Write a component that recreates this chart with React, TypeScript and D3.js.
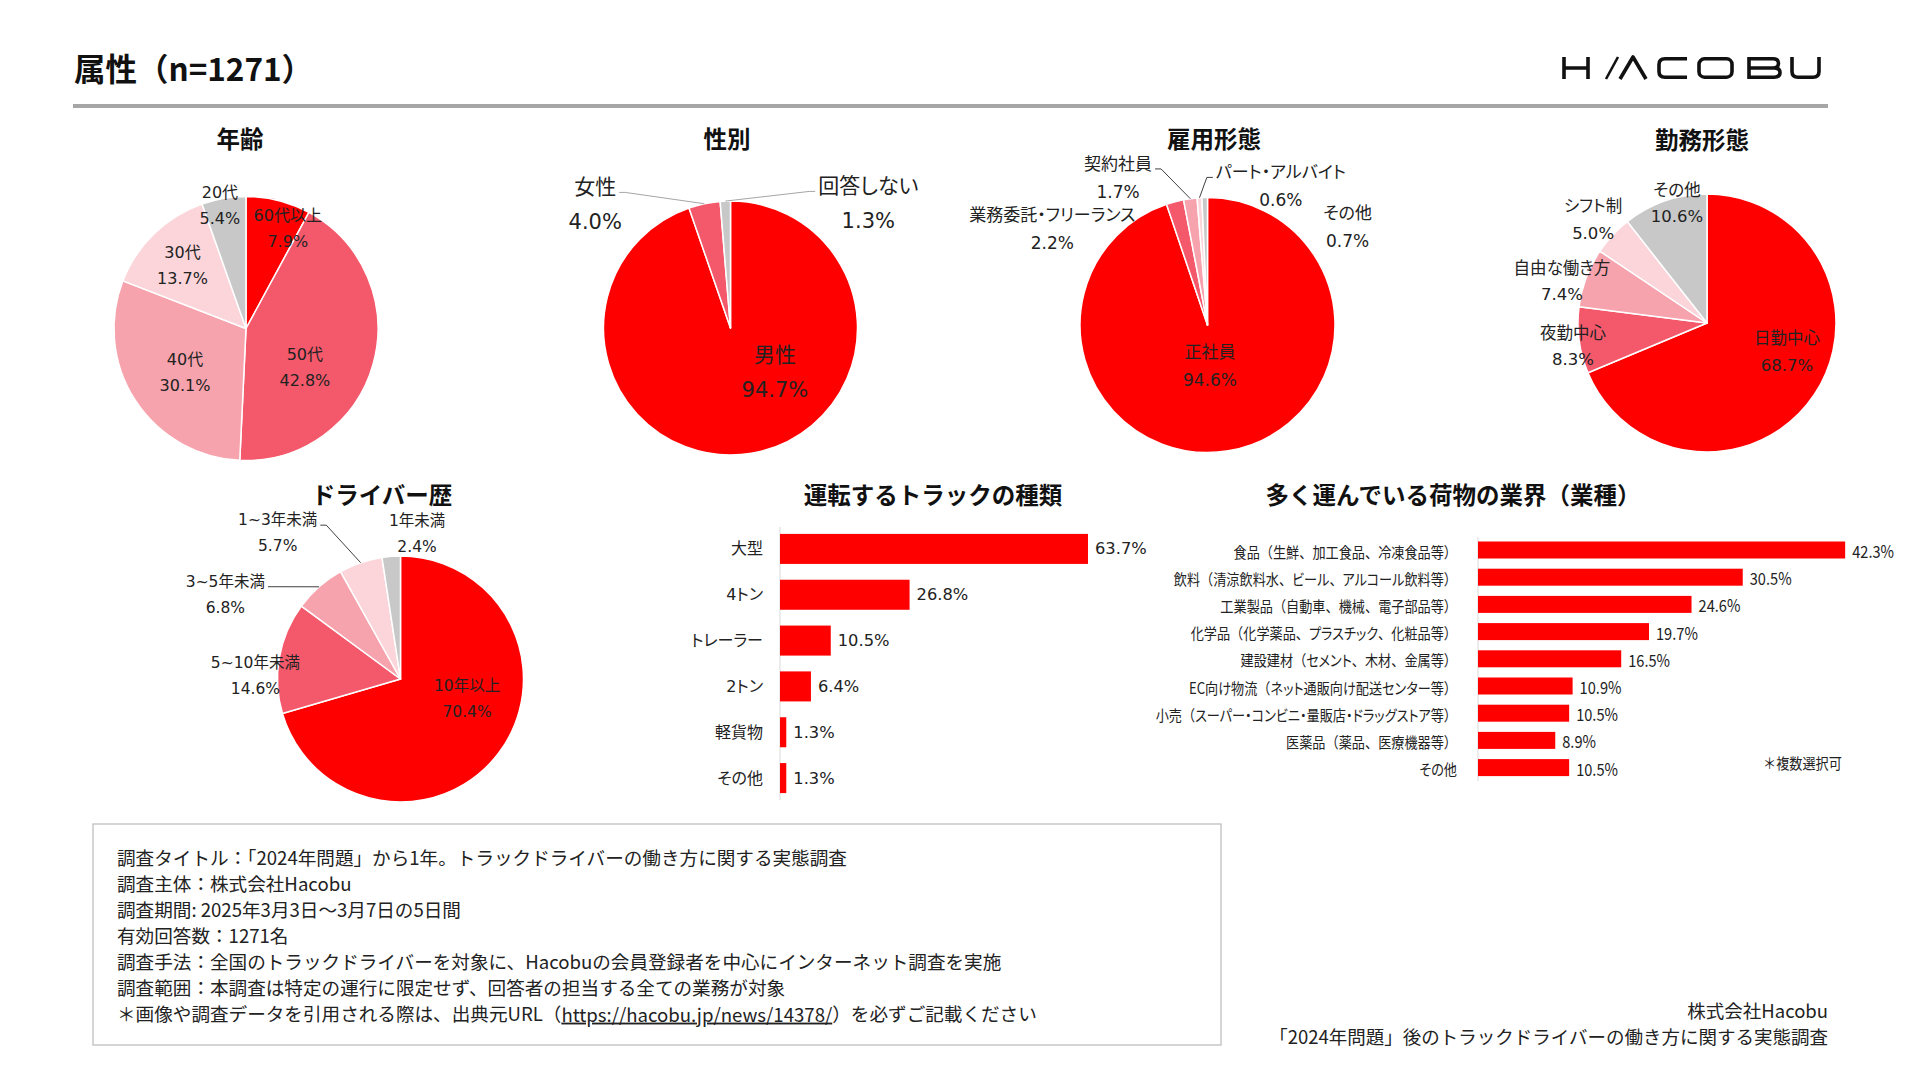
import React, { useLayoutEffect, useRef, useState } from 'react';
import * as d3 from 'd3';

// ---------- DATA ----------
const ageCategories = ['60代以上', '50代', '40代', '30代', '20代'];
const ageValues = [7.9, 42.8, 30.1, 13.7, 5.4];

const genderCategories = ['男性', '女性', '回答しない'];
const genderValues = [94.7, 4.0, 1.3];

const employmentCategories = ['正社員', '業務委託・フリーランス', '契約社員', 'パート・アルバイト', 'その他'];
const employmentValues = [94.6, 2.2, 1.7, 0.6, 0.7];

const workCategories = ['日勤中心', '夜勤中心', '自由な働き方', 'シフト制', 'その他'];
const workValues = [68.7, 8.3, 7.4, 5.0, 10.6];

const driverCategories = ['10年以上', '5~10年未満', '3~5年未満', '1~3年未満', '1年未満'];
const driverValues = [70.4, 14.6, 6.8, 5.7, 2.4];

const truckCategories = ['大型', '4トン', 'トレーラー', '2トン', '軽貨物', 'その他'];
const truckValues = [63.7, 26.8, 10.5, 6.4, 1.3, 1.3];

const industryCategories = [
  '食品（生鮮、加工食品、冷凍食品等）',
  '飲料（清涼飲料水、ビール、アルコール飲料等）',
  '工業製品（自動車、機械、電子部品等）',
  '化学品（化学薬品、プラスチック、化粧品等）',
  '建設建材（セメント、木材、金属等）',
  'EC向け物流（ネット通販向け配送センター等）',
  '小売（スーパー・コンビニ・量販店・ドラッグストア等）',
  '医薬品（薬品、医療機器等）',
  'その他',
];
const industryValues = [42.3, 30.5, 24.6, 19.7, 16.5, 10.9, 10.5, 8.9, 10.5];

const surveyLines = [
  '調査タイトル：「2024年問題」から1年。トラックドライバーの働き方に関する実態調査',
  '調査主体：株式会社Hacobu',
  '調査期間: 2025年3月3日～3月7日の5日間',
  '有効回答数：1271名',
  '調査手法：全国のトラックドライバーを対象に、Hacobuの会員登録者を中心にインターネット調査を実施',
  '調査範囲：本調査は特定の運行に限定せず、回答者の担当する全ての業務が対象',
];
const citePre = '＊画像や調査データを引用される際は、出典元URL（';
const citeUrl = 'https://hacobu.jp/news/14378/';
const citePost = '）を必ずご記載ください';

// ---------- STYLE ----------
const RED = '#FF0000';
const PINK1 = '#F4596B';
const PINK2 = '#F7A3AD';
const PINK3 = '#FBD5DA';
const GRAY = '#C8C8C8';
const fiveColors = [RED, PINK1, PINK2, PINK3, GRAY];
const genderColors = [RED, PINK1, GRAY];

const JP = "'Noto Sans CJK JP', 'Noto Sans', sans-serif";
const LBL = "'DejaVu Sans', 'Noto Sans CJK JP', sans-serif";
const TXT = '#222222';

type PieProps = {
  cx: number; cy: number; r: number;
  cats: string[]; vals: number[]; colors: string[];
  fs: number; gap: number;
  layout: [number, number][]; // [angle deg, radius ratio]
  leaders?: boolean[];
  leaderColor?: string;
};

function Pie({ cx, cy, r, cats, vals, colors, fs, gap, layout, leaders, leaderColor }: PieProps) {
  const ref = useRef<SVGGElement>(null);
  const [boxes, setBoxes] = useState<any[]>([]);
  const arcs = d3.pie<number>().sort(null).value((d) => d)(vals);
  const arcGen = d3.arc<d3.PieArcDatum<number>>().innerRadius(0).outerRadius(r);

  useLayoutEffect(() => {
    const measure = () => {
      if (!ref.current) return;
      const list: any[] = [];
      ref.current.querySelectorAll<SVGTextElement>('text.lbl1').forEach((t) => {
        const b = t.getBBox();
        list[Number(t.getAttribute('data-i'))] = { x: b.x, y: b.y, w: b.width, h: b.height };
      });
      setBoxes(list);
    };
    measure();
    const f = (document as any).fonts;
    if (f && f.ready) f.ready.then(measure);
  }, []);

  const pos = layout.map(([a, k]) => {
    const rad = (a * Math.PI) / 180;
    return [cx + r * k * Math.sin(rad), cy - r * k * Math.cos(rad)];
  });

  return (
    <g ref={ref}>
      <g transform={`translate(${cx},${cy})`}>
        {arcs.map((a, i) => (
          <path key={i} d={arcGen(a) || ''} fill={colors[i]} stroke="#FFFFFF" strokeWidth={1.5} strokeLinejoin="round" />
        ))}
      </g>
      {leaders &&
        arcs.map((a, i) => {
          if (!leaders[i] || !boxes[i]) return null;
          const m = (a.startAngle + a.endAngle) / 2;
          const ex = cx + r * Math.sin(m);
          const ey = cy - r * Math.cos(m);
          const b = boxes[i];
          const left = pos[i][0] < ex;
          const lx = left ? b.x + b.w + 3 : b.x - 3;
          const ly = b.y + b.h / 2 + 5;
          const dir = left ? 1 : -1;
          return (
            <polyline
              key={'l' + i}
              points={`${ex},${ey} ${lx + dir * 6},${ly} ${lx},${ly}`}
              fill="none"
              stroke={leaderColor || '#404040'}
              strokeWidth={1}
            />
          );
        })}
      {cats.map((c, i) => (
        <g key={'t' + i} fontFamily={LBL} fontSize={fs} fill={TXT} textAnchor="middle" style={{ fontFeatureSettings: "'palt'" }}>
          <text className="lbl1" data-i={i} x={pos[i][0]} y={pos[i][1] - gap / 2} dominantBaseline="central">
            {c}
          </text>
          <text x={pos[i][0]} y={pos[i][1] + gap / 2} dominantBaseline="central">
            {vals[i].toFixed(1)}%
          </text>
        </g>
      ))}
    </g>
  );
}

function TruckBars() {
  const x0 = 780;
  const x = d3.scaleLinear().domain([0, 70]).range([x0, x0 + 70 * 4.835]);
  const y = d3.scaleBand<string>().domain(truckCategories).range([526, 801]).paddingInner(0.345).paddingOuter(0.1725);
  return (
    <g>
      <line x1={x0} x2={x0} y1={527} y2={800} stroke="#D9D9D9" strokeWidth={1} />
      {truckCategories.map((c, i) => (
        <g key={c}>
          <rect x={x0} y={y(c)!} width={x(truckValues[i]) - x0} height={y.bandwidth()} fill={RED} />
          <text x={763} y={y(c)! + y.bandwidth() / 2} dominantBaseline="central" textAnchor="end" fontFamily={LBL} fontSize={16} fill={TXT} style={{ fontFeatureSettings: "'palt'" }}>
            {c}
          </text>
          <text x={x(truckValues[i]) + 7} y={y(c)! + y.bandwidth() / 2} dominantBaseline="central" fontFamily={LBL} fontSize={16.3} fill={TXT}>
            {truckValues[i].toFixed(1)}%
          </text>
        </g>
      ))}
    </g>
  );
}

// split label: kana get proportional widths, brackets/commas stay full width
function splitSegments(s: string) {
  const segs: { t: string; wide: boolean }[] = [];
  for (const ch of s) {
    const wide = '（）、'.includes(ch);
    const last = segs[segs.length - 1];
    if (last && last.wide === wide) last.t += ch;
    else segs.push({ t: ch, wide });
  }
  return segs;
}

function IndustryBars() {
  const x0 = 1478;
  const x = d3.scaleLinear().domain([0, 50]).range([x0, x0 + 50 * 8.68]);
  const y = d3.scaleBand<string>().domain(industryCategories).range([536.4, 781.2]).paddingInner(0.375).paddingOuter(0.1875);
  const sx = 0.86;
  return (
    <g>
      <line x1={x0} x2={x0} y1={537} y2={781} stroke="#D9D9D9" strokeWidth={1} />
      {industryCategories.map((c, i) => {
        const cy = y(c)! + y.bandwidth() / 2;
        return (
          <g key={c}>
            <rect x={x0} y={y(c)!} width={x(industryValues[i]) - x0} height={y.bandwidth()} fill={RED} />
            <text transform={`translate(1457,${cy}) scale(${sx},1)`} dominantBaseline="central" textAnchor="end" fontFamily={JP} fontSize={15.3} fill={TXT}>
              {splitSegments(c).map((sg, k) => (
                <tspan key={k} style={{ fontFeatureSettings: sg.wide ? 'normal' : "'palt'" }}>{sg.t}</tspan>
              ))}
            </text>
            <text transform={`translate(${x(industryValues[i]) + 7},${cy + 1}) scale(${sx},1)`} dominantBaseline="central" fontFamily={JP} fontSize={17} fill={TXT}>
              {industryValues[i].toFixed(1)}%
            </text>
          </g>
        );
      })}
      <text transform={`translate(1763,762) scale(${sx},1)`} dominantBaseline="central" fontFamily={JP} fontSize={15.3} fill={TXT}>
        ＊複数選択可
      </text>
    </g>
  );
}

function Logo() {
  return (
    <g transform="translate(1562,57)" fill="none" stroke="#111111" strokeWidth={3.6} strokeLinecap="butt" strokeLinejoin="round">
      <path d="M2,0 V22 M26,0 V22 M2,11 H26" />
      <path d="M44,22 L56,0" strokeWidth={2.6} />
      <path d="M58,22 L71,0 L84,22" />
      <path d="M125,1.8 H103 Q97,1.8 97,7.5 V14.5 Q97,20.2 103,20.2 H125" />
      <rect x={137} y={1.8} width={33} height={18.4} rx={5.5} />
      <path d="M187,0 V22 M187,1.8 H211 Q216.5,1.8 216.5,6.3 Q216.5,11 211,11 H187 M187,11 H212 Q218,11 218,15.6 Q218,20.2 212,20.2 H187" />
      <path d="M230,0 V14.5 Q230,20.2 236,20.2 H251 Q257,20.2 257,14.5 V0" />
    </g>
  );
}

const titleProps = { fontFamily: JP, fontWeight: 700, fontSize: 23.5, fill: '#111111', textAnchor: 'middle' as const, dominantBaseline: 'central' as const };

export default function App() {
  return (
    <svg width={1920} height={1080} viewBox="0 0 1920 1080" style={{ position: 'absolute', left: 0, top: 0, background: '#FFFFFF' }}>
      <rect x={0} y={0} width={1920} height={1080} fill="#FFFFFF" />
      {/* header */}
      <text x={74} y={67} fontFamily={JP} fontWeight={700} fontSize={31.5} fill="#111111" dominantBaseline="central">
        属性（n=1271）
      </text>
      <Logo />
      <rect x={73} y={104} width={1755} height={4} fill="#A6A6A6" />

      {/* section titles */}
      <text x={240} y={138} {...titleProps}>年齢</text>
      <text x={727} y={138} {...titleProps}>性別</text>
      <text x={1214} y={138} {...titleProps}>雇用形態</text>
      <text x={1702} y={139} {...titleProps}>勤務形態</text>
      <text x={382} y={494} {...titleProps}>ドライバー歴</text>
      <text x={933} y={494} {...titleProps}>運転するトラックの種類</text>
      <text x={1453} y={494} {...titleProps}>多く運んでいる荷物の業界（業種）</text>

      <Pie cx={246} cy={328.5} r={132} cats={ageCategories} vals={ageValues} colors={fiveColors} fs={16} gap={26}
        layout={[[22.7, 0.82], [123.5, 0.535], [234.2, 0.57], [315, 0.68], [348, 0.95]]} />
      <Pie cx={730.5} cy={328} r={127} cats={genderCategories} vals={genderValues} colors={genderColors} fs={21} gap={35}
        layout={[[135, 0.495], [312.3, 1.44], [48, 1.46]]} leaders={[false, true, true]} leaderColor="#A6A6A6" />
      <Pie cx={1207.5} cy={325} r={127.5} cats={employmentCategories} vals={employmentValues} colors={fiveColors} fs={17} gap={28}
        layout={[[176.5, 0.32], [301.7, 1.43], [328.7, 1.35], [27.9, 1.23], [55.1, 1.34]]} leaders={[false, false, true, true, false]} leaderColor="#404040" />
      <Pie cx={1707} cy={323} r={129} cats={workCategories} vals={workValues} colors={fiveColors} fs={16.5} gap={26.7}
        layout={[[109.9, 0.66], [260, 1.055], [286, 1.17], [312.1, 1.19], [345.9, 0.955]]} />
      <Pie cx={400.5} cy={679} r={123} cats={driverCategories} vals={driverValues} colors={fiveColors} fs={15.5} gap={26}
        layout={[[107.1, 0.566], [271.2, 1.18], [295.7, 1.58], [319.9, 1.55], [6.5, 1.19]]} leaders={[false, false, true, true, false]} leaderColor="#404040" />

      <TruckBars />
      <IndustryBars />

      {/* survey box */}
      <rect x={93} y={824} width={1128} height={221} fill="none" stroke="#BFBFBF" strokeWidth={1.3} />
      <g fontFamily={JP} fontSize={18.6} fill={TXT}>
        {surveyLines.map((s, i) => (
          <text key={i} x={117} y={856 + i * 26.1} dominantBaseline="central">{s}</text>
        ))}
        <text x={117} y={856 + 6 * 26.1} dominantBaseline="central">
          {citePre}
          <tspan textDecoration="underline" style={{ textDecoration: 'underline' }}>{citeUrl}</tspan>
          {citePost}
        </text>
      </g>
      <g fontFamily={JP} fontSize={18.5} fill={TXT} textAnchor="end">
        <text x={1828} y={1010} dominantBaseline="central">株式会社Hacobu</text>
        <text x={1828} y={1036} dominantBaseline="central">「2024年問題」後のトラックドライバーの働き方に関する実態調査</text>
      </g>
    </svg>
  );
}
